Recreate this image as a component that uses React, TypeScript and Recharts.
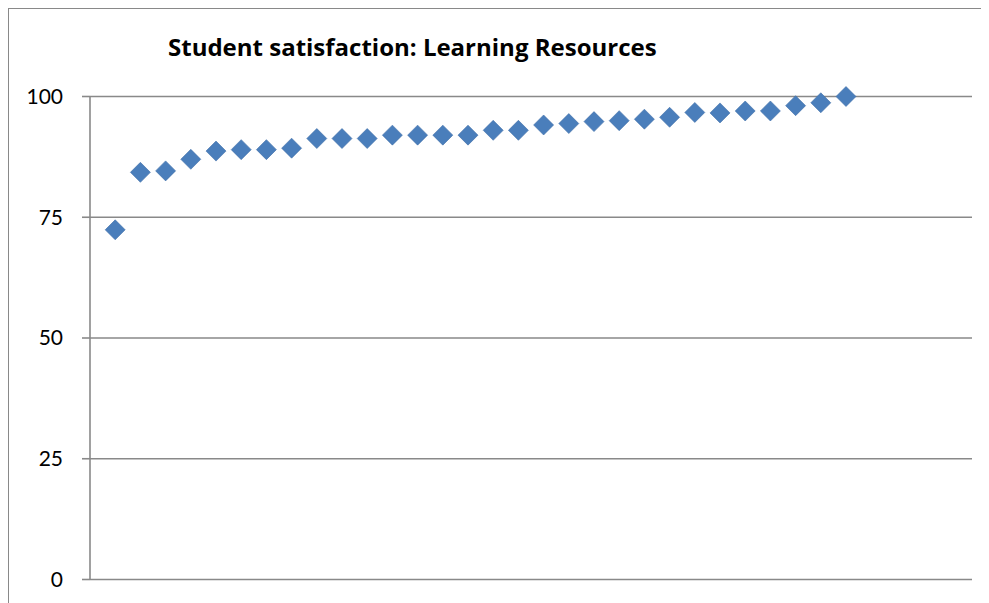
import React from 'react';
import { ScatterChart, Scatter, XAxis, YAxis, CartesianGrid } from 'recharts';

// institutions, ranked low -> high
const positions = [
  1, 2, 3, 4, 5, 6, 7, 8, 9, 10, 11, 12, 13, 14, 15,
  16, 17, 18, 19, 20, 21, 22, 23, 24, 25, 26, 27, 28, 29, 30,
];
const satisfaction = [
  72.4, 84.3, 84.6, 87.0, 88.7, 89.0, 89.0, 89.3, 91.3, 91.3, 91.3, 92.0, 92.0, 92.0, 92.0,
  93.0, 93.0, 94.1, 94.4, 94.8, 95.0, 95.3, 95.7, 96.7, 96.6, 97.0, 97.0, 98.1, 98.7, 100,
];
const yTicks = [0, 25, 50, 75, 100];
const title = 'Student satisfaction: Learning Resources';

const gridGrey = '#898989';
const markerBlue = '#4a7ebb';

const Diamond = (props: any) => {
  const { cx, cy } = props;
  const r = 10;
  return (
    <polygon
      points={`${cx},${cy - r} ${cx + r},${cy} ${cx},${cy + r} ${cx - r},${cy}`}
      fill={markerBlue}
      stroke="#3f6fa8"
      strokeWidth={0.6}
    />
  );
};

const App: React.FC = () => {
  const data = positions.map((p, i) => ({ x: p, y: satisfaction[i] }));

  return (
    <div style={{ position: 'relative', width: 981, height: 595, borderLeft: `1px solid ${gridGrey}`, borderTop: `1px solid ${gridGrey}`, background: '#fff' }}>
      <svg width={980} height={80} style={{ position: 'absolute', left: 0, top: 0 }}>
        <text x={159} y={47} fontFamily="Open Sans" fontWeight={700} fontSize={24} fill="#000">{title}</text>
      </svg>
      <div style={{ position: 'absolute', left: 0, top: 0 }}>
        <ScatterChart width={980} height={594} margin={{ top: 87.5, right: 17, bottom: 23.5, left: 0 }}>
          <CartesianGrid horizontal vertical={false} stroke={gridGrey} strokeWidth={1.6} />
          <XAxis type="number" dataKey="x" domain={[0, 35]} hide />
          <YAxis
            type="number"
            dataKey="y"
            domain={[0, 100]}
            ticks={yTicks}
            width={81}
            tickSize={8}
            tickMargin={19}
            axisLine={{ stroke: gridGrey, strokeWidth: 1.6 }}
            tickLine={{ stroke: gridGrey, strokeWidth: 1.6 }}
            tick={{ fill: '#000', fontSize: 21, fontFamily: 'Lato' }}
          />
          <Scatter data={data} shape={Diamond} isAnimationActive={false} />
        </ScatterChart>
      </div>
    </div>
  );
};

export default App;
